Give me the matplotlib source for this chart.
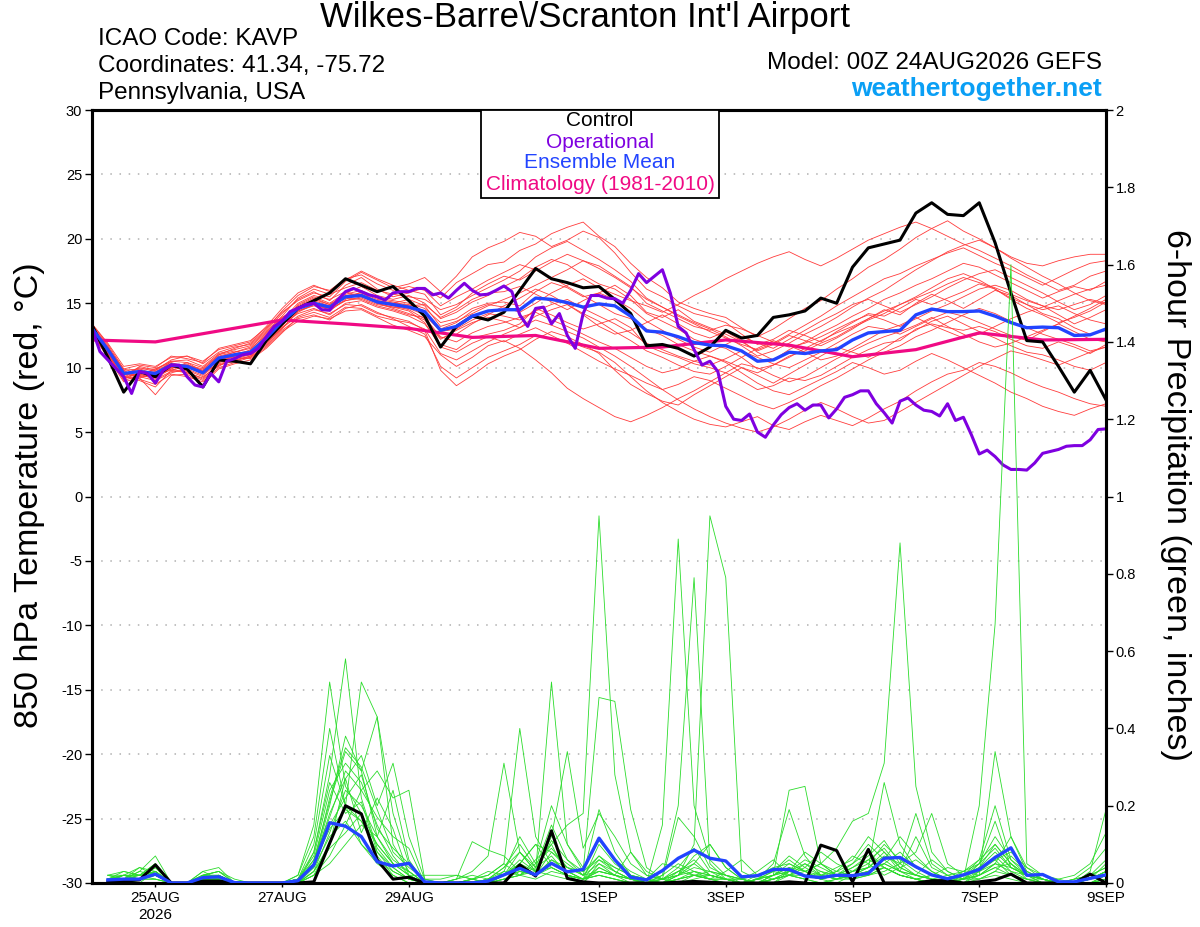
import numpy as np
import matplotlib
matplotlib.use("Agg")
import matplotlib.pyplot as plt
from matplotlib.patches import Rectangle

plt.rcParams['font.family'] = ['Liberation Sans', 'DejaVu Sans']
plt.rcParams['axes.unicode_minus'] = False

# ---- texts ----
station = "Wilkes-Barre\\/Scranton Int'l Airport"
info_lines = ["ICAO Code: KAVP", "Coordinates: 41.34, -75.72", "Pennsylvania, USA"]
model_run = "Model: 00Z 24AUG2026 GEFS"
site = "weathertogether.net"
legend_names = ["Control", "Operational", "Ensemble Mean", "Climatology (1981-2010)"]

# ---- axes ----
date_hours = [24, 72, 120, 192, 240, 288, 336, 384]
date_labels = ["25AUG\n2026", "27AUG", "29AUG", "1SEP", "3SEP", "5SEP", "7SEP", "9SEP"]
temp_ticks = [-30, -25, -20, -15, -10, -5, 0, 5, 10, 15, 20, 25, 30]
precip_ticks = [0, 0.2, 0.4, 0.6, 0.8, 1.0, 1.2, 1.4, 1.6, 1.8, 2.0]
precip_labels = ["0", "0.2", "0.4", "0.6", "0.8", "1", "1.2", "1.4", "1.6", "1.8", "2"]

# ---- 850 hPa temperature (C), 6-hourly from 00Z 24AUG ----
control_temp = [13.3, 10.8, 8.1, 9.7, 9.3, 10.2, 9.9, 8.5, 10.6, 10.5, 10.3, 12.1, 13.4,
                14.6, 15.2, 15.8, 16.9, 16.4, 15.9, 16.3, 15.2, 14.0, 11.6, 13.2, 14.0, 13.7,
                14.3, 16.0, 17.7, 16.9, 16.6, 16.2, 16.3, 15.3, 14.2, 11.7, 11.8, 11.5, 10.9,
                11.6, 12.9, 12.3, 12.5, 13.9, 14.1, 14.4, 15.4, 15.0, 17.8, 19.3, 19.6, 19.9,
                22.0, 22.8, 21.9, 21.8, 22.8, 19.7, 15.8, 12.1, 12.0, 10.1, 8.1, 9.8, 7.5]

mean_temp = [13.05, 11.4, 9.55, 9.7, 9.55, 10.2, 10.1, 9.6, 10.75, 11.0, 11.2, 12.3, 13.6,
             14.6, 15.0, 14.7, 15.5, 15.6, 15.1, 14.9, 14.7, 14.35, 12.9, 13.2, 14.0, 14.4,
             14.5, 14.5, 15.4, 15.3, 15.05, 14.7, 14.95, 14.8, 14.0, 12.85, 12.75, 12.4, 11.95,
             11.75, 11.7, 11.3, 10.5, 10.6, 11.2, 11.1, 11.3, 11.4, 12.15, 12.7, 12.8, 12.9,
             14.1, 14.55, 14.35, 14.35, 14.4, 14.0, 13.5, 13.1, 13.15, 13.1, 12.5, 12.55, 13.0]

# operational run, 3-hourly
oper_temp = [13.05, 11.25, 10.6, 9.95, 9.3, 8.0, 9.7, 9.55, 8.8, 9.8, 10.2, 10.2, 9.3,
             8.65, 8.5, 9.55, 8.9, 10.5, 10.7, 11.0, 11.1, 11.5, 12.4, 13.2, 13.6, 14.35,
             14.6, 14.9, 15.0, 14.5, 14.45, 15.25, 15.9, 16.15, 15.9, 15.65, 15.5, 15.25, 15.8,
             15.9, 15.9, 16.15, 16.15, 15.65, 15.8, 15.4, 16.0, 16.55, 16.0, 15.65, 15.7, 16.0,
             16.34, 15.9, 14.1, 13.2, 14.6, 14.7, 13.4, 14.2, 12.5, 11.5, 14.2, 15.6, 15.6,
             15.4, 15.35, 15.0, 16.0, 17.3, 16.6, 17.1, 17.6, 15.8, 13.2, 12.7, 11.4, 10.2,
             10.5, 9.7, 7.0, 6.0, 5.9, 6.4, 5.0, 4.6, 5.55, 6.35, 6.9, 7.2, 6.7,
             7.1, 7.1, 6.1, 6.8, 7.7, 7.9, 8.2, 8.2, 7.2, 6.5, 5.7, 7.4, 7.65, 7.1,
             6.7, 6.6, 6.25, 7.2, 5.9, 6.15, 4.8, 3.3, 3.6, 3.1, 2.45, 2.1, 2.1,
             2.05, 2.6, 3.35, 3.5, 3.65, 3.9, 3.95, 3.95, 4.4, 5.2, 5.25]

# climatology, daily at 00Z
clim_temp = [12.15, 12.0, 12.85, 13.7, 13.4, 13.05, 12.35, 12.5, 11.5,
             11.6, 12.15, 11.75, 10.85, 11.4, 12.7, 12.15, 12.2]

temp_members = [
    [12.8, 11.0, 9.2, 10.1, 9.8, 10.6, 10.9, 10.3, 11.2, 11.6, 11.8, 12.9, 14.2,
     15.3, 15.9, 15.2, 16.4, 17.0, 16.1, 15.5, 15.8, 16.2, 15.4, 16.6, 17.3, 18.0,
     18.2, 19.1, 19.6, 20.4, 20.9, 21.3, 20.2, 19.4, 18.1, 17.0, 16.2, 15.1, 14.6,
     14.2, 13.9, 13.1, 12.4, 13.0, 13.8, 14.6, 15.2, 16.1, 16.9, 17.8, 18.4, 19.2,
     20.1, 20.8, 21.4, 20.6, 20.0, 19.3, 18.6, 18.1, 17.9, 18.3, 18.6, 18.8, 18.8],
    [13.2, 11.6, 9.8, 9.1, 8.7, 9.5, 9.3, 8.9, 10.0, 10.4, 10.8, 11.7, 12.9,
     13.8, 14.1, 13.7, 14.6, 14.9, 14.3, 13.8, 13.2, 12.6, 10.1, 9.2, 10.0, 10.8,
     11.3, 11.8, 12.5, 12.3, 12.1, 11.6, 11.2, 10.4, 9.3, 8.2, 7.3, 6.6, 6.0,
     5.6, 5.4, 5.8, 6.2, 5.5, 5.2, 5.8, 6.3, 5.9, 5.5, 6.1, 6.8, 7.4,
     8.2, 8.9, 9.5, 9.8, 10.4, 10.1, 9.6, 9.0, 8.5, 8.1, 7.6, 7.2, 7.0],
    [13.0, 11.2, 9.0, 9.4, 9.9, 10.4, 10.0, 9.8, 11.0, 11.3, 11.0, 12.0, 13.2,
     14.9, 15.5, 15.0, 15.8, 16.3, 15.6, 15.3, 15.6, 15.0, 13.8, 14.3, 15.1, 15.6,
     16.3, 16.9, 17.8, 18.4, 18.0, 17.2, 16.5, 16.1, 15.3, 14.2, 13.6, 13.0, 12.2,
     11.8, 11.5, 10.8, 9.9, 10.2, 10.9, 11.3, 11.9, 12.4, 13.1, 13.7, 14.2, 14.9,
     15.5, 16.2, 16.9, 17.3, 16.8, 16.1, 15.4, 14.9, 14.2, 13.8, 13.1, 12.6, 12.9],
    [12.6, 11.0, 9.3, 9.0, 8.5, 9.8, 9.6, 9.2, 10.3, 10.6, 10.9, 12.1, 13.4,
     14.2, 14.6, 14.1, 15.0, 15.2, 14.7, 14.4, 14.0, 13.4, 11.8, 11.4, 12.3, 12.6,
     12.9, 13.4, 14.6, 14.1, 13.5, 13.0, 13.4, 13.8, 13.1, 11.7, 11.2, 10.8, 10.3,
     10.0, 9.6, 9.0, 8.3, 8.6, 9.2, 9.0, 9.4, 10.1, 10.8, 11.4, 11.9, 12.1,
     13.0, 13.4, 13.1, 12.9, 13.2, 12.8, 12.2, 11.7, 11.5, 12.0, 11.6, 11.1, 11.8],
    [13.4, 11.8, 9.9, 10.2, 10.0, 10.9, 10.7, 10.4, 11.5, 11.8, 12.1, 13.1, 14.3,
     15.2, 15.8, 15.5, 16.7, 17.4, 16.8, 16.2, 16.5, 17.0, 15.9, 17.1, 18.6, 19.3,
     19.8, 20.5, 20.2, 19.4, 19.9, 20.6, 20.1, 18.9, 17.4, 16.1, 15.5, 14.8, 14.2,
     13.9, 13.5, 12.6, 11.8, 12.2, 12.9, 12.5, 12.0, 12.8, 13.5, 14.2, 14.0, 14.6,
     15.3, 14.9, 15.4, 15.9, 16.5, 16.1, 15.3, 14.6, 14.1, 13.5, 13.9, 14.4, 15.1],
    [12.9, 11.3, 9.4, 9.8, 9.4, 10.0, 10.3, 9.5, 10.6, 10.9, 11.4, 12.6, 13.9,
     14.7, 15.1, 14.4, 15.3, 15.9, 15.0, 14.6, 14.2, 13.7, 12.2, 12.9, 13.5, 13.9,
     13.6, 13.1, 14.0, 14.5, 14.9, 14.1, 13.2, 12.6, 12.9, 13.5, 14.1, 13.4, 12.7,
     12.3, 12.8, 12.1, 11.2, 10.6, 11.4, 12.0, 12.7, 13.3, 14.0, 14.6, 15.3, 15.8,
     16.4, 16.9, 17.5, 18.1, 17.8, 17.2, 16.6, 16.0, 15.4, 15.9, 16.3, 16.0, 16.7],
    [13.1, 11.5, 9.7, 9.3, 9.0, 9.6, 9.9, 9.4, 10.4, 10.7, 11.0, 12.0, 13.1,
     14.0, 14.5, 14.2, 14.9, 14.8, 14.2, 13.9, 13.6, 12.9, 9.8, 8.6, 9.4, 10.3,
     10.9, 11.4, 12.2, 12.8, 12.4, 11.8, 11.1, 9.8, 8.7, 8.0, 7.4, 7.1, 7.9,
     8.6, 9.3, 10.0, 9.4, 8.8, 9.5, 10.2, 10.9, 11.6, 11.2, 10.8, 11.5, 12.3,
     12.9, 13.6, 14.0, 13.4, 12.8, 12.3, 11.7, 11.2, 11.0, 10.6, 10.1, 9.8, 10.4],
    [12.7, 11.1, 9.5, 10.0, 9.7, 10.3, 10.2, 9.9, 10.9, 11.2, 11.5, 12.5, 13.8,
     14.8, 15.4, 14.9, 15.7, 16.0, 15.4, 15.2, 15.0, 14.6, 13.5, 13.8, 14.6, 15.0,
     15.1, 14.8, 15.9, 16.6, 16.2, 15.5, 15.8, 16.4, 15.6, 14.3, 13.9, 14.5, 13.6,
     13.1, 12.6, 12.0, 11.3, 11.8, 12.5, 12.1, 11.7, 12.3, 13.0, 13.8, 14.5, 14.1,
     15.0, 15.7, 15.2, 14.6, 15.3, 16.0, 15.6, 14.9, 14.5, 14.8, 14.2, 13.7, 13.4],
    [13.3, 11.7, 9.6, 9.2, 9.6, 10.1, 9.7, 9.1, 10.2, 10.5, 10.9, 11.9, 13.0,
     14.4, 14.8, 14.6, 15.4, 15.3, 14.8, 14.5, 14.1, 13.9, 12.4, 12.0, 12.7, 13.2,
     13.5, 13.9, 14.3, 13.7, 13.2, 12.6, 12.0, 11.5, 10.8, 10.1, 9.6, 9.9, 10.5,
     10.9, 10.4, 9.6, 8.8, 8.2, 7.9, 8.5, 9.1, 9.7, 10.4, 10.0, 9.5, 9.8,
     10.5, 11.1, 10.6, 10.0, 9.4, 8.8, 8.1, 7.6, 7.0, 6.6, 6.3, 6.8, 7.2],
    [12.5, 10.9, 9.1, 9.6, 9.2, 9.9, 10.4, 9.7, 10.5, 11.1, 11.3, 12.4, 13.7,
     15.0, 15.6, 15.3, 15.9, 15.5, 15.2, 15.0, 15.3, 14.8, 13.2, 13.6, 14.2, 14.8,
     15.3, 15.8, 16.4, 17.0, 17.6, 18.3, 17.9, 17.1, 16.3, 15.0, 14.4, 13.8, 13.2,
     12.9, 13.3, 13.0, 12.5, 12.0, 11.6, 11.9, 12.4, 13.0, 13.6, 14.1, 13.7, 13.2,
     13.8, 14.4, 14.9, 15.5, 16.1, 16.4, 16.0, 15.3, 14.8, 14.1, 13.4, 13.9, 14.5],
    [13.0, 11.3, 9.3, 9.5, 9.1, 9.7, 9.8, 9.3, 10.1, 10.8, 10.7, 11.6, 12.8,
     13.6, 14.0, 13.8, 14.4, 14.5, 13.9, 13.3, 12.9, 12.4, 11.0, 10.1, 10.8, 11.7,
     12.1, 11.5, 10.6, 9.6, 8.4, 7.6, 6.9, 6.2, 5.8, 6.3, 6.9, 7.6, 8.2,
     8.9, 9.6, 10.3, 10.0, 9.4, 8.9, 9.3, 10.0, 10.7, 11.3, 11.9, 12.4, 12.8,
     13.3, 13.9, 13.2, 12.6, 12.0, 11.6, 11.9, 12.4, 12.9, 13.4, 12.8, 12.2, 12.0],
    [13.2, 11.4, 9.8, 9.9, 9.5, 10.5, 10.6, 10.1, 11.1, 11.4, 11.7, 12.8, 14.0,
     15.4, 16.1, 15.7, 16.2, 16.6, 16.0, 15.7, 15.5, 15.3, 14.5, 14.9, 15.6, 16.2,
     16.8, 17.5, 18.6, 19.3, 19.8, 19.1, 18.4, 17.6, 16.7, 15.4, 14.7, 14.1, 13.5,
     13.0, 12.4, 11.7, 10.9, 11.3, 11.9, 12.6, 13.2, 13.9, 14.7, 15.4, 16.0, 16.8,
     17.6, 18.3, 19.0, 19.5, 19.9, 19.3, 18.5, 17.8, 17.1, 16.5, 15.8, 15.2, 14.9],
    [12.8, 11.1, 9.2, 9.6, 9.4, 9.9, 9.6, 9.0, 10.2, 10.6, 10.8, 11.8, 13.1,
     14.3, 14.9, 14.5, 15.2, 15.4, 14.9, 14.7, 14.4, 13.5, 11.6, 11.2, 11.9, 12.4,
     12.0, 12.6, 13.1, 12.5, 11.9, 11.2, 10.5, 9.9, 9.4, 8.8, 8.3, 8.7, 9.3,
     9.0, 8.4, 7.8, 7.2, 6.8, 7.3, 7.9, 8.6, 9.2, 9.9, 10.6, 11.2, 11.7,
     12.4, 12.9, 13.5, 14.1, 14.6, 14.2, 13.6, 13.1, 12.6, 12.2, 11.8, 11.3, 11.6],
    [13.1, 11.6, 9.9, 9.5, 9.8, 10.3, 10.0, 9.6, 10.8, 11.2, 11.6, 12.7, 13.9,
     14.6, 15.2, 14.8, 15.6, 15.8, 15.3, 15.1, 14.8, 14.9, 13.9, 14.5, 15.3, 15.8,
     15.9, 16.3, 15.7, 15.1, 14.5, 15.2, 15.8, 15.3, 14.6, 13.6, 12.9, 12.2, 11.6,
     11.2, 11.8, 12.4, 11.9, 11.5, 12.2, 12.9, 13.6, 14.2, 14.9, 15.3, 14.8, 14.3,
     14.9, 15.5, 16.2, 16.8, 17.3, 17.6, 17.0, 16.4, 15.8, 15.1, 14.5, 14.9, 15.6],
    [12.9, 11.2, 9.4, 9.7, 9.6, 10.1, 10.0, 9.7, 10.7, 10.9, 11.2, 12.2, 13.5,
     14.5, 15.1, 14.7, 15.5, 15.7, 15.2, 15.0, 14.9, 14.4, 13.0, 13.5, 14.4, 14.9,
     14.7, 14.3, 15.0, 15.8, 16.4, 16.9, 16.2, 15.7, 15.2, 14.8, 14.3, 14.9, 15.6,
     16.2, 16.9, 17.5, 18.1, 18.6, 19.0, 18.4, 17.9, 18.5, 19.2, 19.9, 20.4, 20.9,
     21.3, 20.8, 20.2, 19.6, 19.1, 18.5, 17.9, 17.2, 16.6, 16.0, 16.4, 17.1, 17.5],
    [13.3, 11.5, 9.6, 9.4, 9.2, 10.0, 10.2, 9.8, 10.6, 10.8, 11.1, 12.2, 13.5,
     14.7, 15.3, 14.9, 15.6, 15.7, 15.1, 14.8, 14.5, 13.8, 12.3, 12.6, 13.4, 14.1,
     14.8, 15.4, 16.1, 15.6, 14.9, 14.2, 13.6, 12.8, 12.1, 11.3, 10.8, 10.2, 9.7,
     9.5, 10.1, 10.8, 11.5, 12.1, 11.7, 11.2, 10.6, 10.9, 11.5, 12.2, 12.9, 13.3,
     13.9, 13.3, 12.8, 12.3, 12.6, 13.2, 13.8, 14.3, 14.7, 15.2, 15.7, 16.1, 16.4],
    [12.6, 10.8, 8.9, 9.2, 7.9, 9.4, 9.5, 8.7, 9.9, 10.3, 10.6, 11.5, 12.7,
     13.9, 14.3, 13.9, 14.7, 14.6, 14.0, 13.7, 13.5, 13.0, 11.1, 10.6, 11.3, 12.0,
     12.6, 13.1, 13.7, 13.3, 12.8, 12.3, 11.6, 10.9, 10.1, 9.2, 8.3, 7.5, 6.8,
     6.2, 5.7, 5.3, 5.0, 5.4, 6.0, 6.7, 7.3, 6.8, 6.2, 5.7, 5.9, 6.6,
     7.3, 8.0, 8.7, 9.4, 10.1, 10.7, 11.3, 11.0, 10.6, 10.2, 10.7, 11.2, 11.6],
    [13.0, 11.4, 9.5, 9.9, 9.9, 10.5, 10.4, 10.0, 11.0, 11.5, 11.9, 13.0, 14.4,
     15.6, 16.3, 16.0, 16.9, 17.2, 16.5, 16.0, 16.3, 16.0, 14.8, 15.5, 16.1, 16.8,
     17.4, 18.0, 17.6, 17.0, 16.3, 15.6, 14.9, 14.2, 13.8, 13.0, 12.5, 11.8, 11.3,
     10.9, 10.5, 10.0, 9.6, 10.2, 10.8, 11.5, 12.1, 12.7, 13.2, 13.8, 14.4, 14.9,
     15.4, 15.9, 16.5, 17.0, 16.6, 16.2, 15.7, 15.2, 14.8, 14.5, 14.9, 15.3, 15.0],
    [12.7, 11.0, 9.2, 9.3, 9.5, 9.8, 10.1, 9.5, 10.4, 10.9, 11.0, 12.1, 13.3,
     14.4, 14.9, 14.6, 15.2, 15.5, 15.0, 14.7, 14.6, 14.1, 12.8, 13.0, 13.7, 14.2,
     14.0, 13.7, 14.4, 14.9, 15.3, 14.6, 14.0, 13.4, 12.7, 11.9, 11.4, 10.9, 10.5,
     10.2, 10.7, 11.3, 10.8, 10.3, 10.0, 10.6, 11.2, 11.9, 12.6, 13.2, 13.0, 12.6,
     13.2, 13.8, 14.3, 14.0, 13.5, 13.0, 12.5, 12.1, 12.8, 13.4, 14.0, 14.6, 15.3],
    [13.4, 11.9, 10.1, 10.3, 10.1, 10.8, 10.9, 10.5, 11.4, 11.7, 12.0, 13.2, 14.6,
     15.8, 16.4, 15.9, 16.8, 17.5, 16.9, 16.4, 16.0, 15.7, 14.1, 14.7, 15.8, 16.5,
     17.1, 16.8, 17.5, 18.2, 18.8, 18.3, 17.7, 17.0, 16.2, 15.3, 14.7, 14.0, 13.4,
     12.8, 12.3, 11.8, 11.4, 11.9, 12.6, 13.3, 14.0, 14.8, 15.5, 16.2, 16.9, 17.3,
     17.9, 18.4, 18.9, 19.3, 18.7, 18.1, 17.6, 17.0, 16.4, 17.0, 17.6, 18.1, 18.3],
]

# ---- 6-hour precipitation (inches), valid 06Z 24AUG onwards ----
control_precip = [0.003, 0.005, 0.008, 0.047, 0, 0, 0.005, 0.005, 0, 0, 0, 0, 0, 0.003, 0.103, 0.2,
                  0.179, 0.06, 0.01, 0.015, 0, 0, 0, 0, 0, 0, 0.047, 0.018, 0.135, 0.012, 0.003, 0,
                  0, 0, 0, 0, 0.002, 0.004, 0.002, 0, 0, 0, 0, 0.003, 0, 0.098, 0.084, 0.003,
                  0.087, 0, 0, 0, 0.006, 0.006, 0, 0.003, 0.008, 0.023, 0, 0, 0, 0, 0.023, 0]

mean_precip = [0.008, 0.01, 0.01, 0.023, 0, 0, 0.014, 0.016, 0.001, 0, 0, 0, 0.006, 0.047, 0.156, 0.147,
               0.12, 0.055, 0.044, 0.051, 0.003, 0, 0, 0, 0.005, 0.021, 0.038, 0.021, 0.051, 0.029, 0.035, 0.116,
               0.06, 0.015, 0.008, 0.032, 0.064, 0.085, 0.064, 0.057, 0.016, 0.019, 0.035, 0.035, 0.018, 0.014, 0.02, 0.019,
               0.025, 0.064, 0.066, 0.042, 0.021, 0.011, 0.021, 0.035, 0.066, 0.091, 0.02, 0.022, 0.003, 0.003, 0.012, 0.021]

precip_members = [
    [0.01, 0.02, 0.01, 0.03, 0, 0, 0.01, 0.02, 0, 0, 0, 0, 0.01, 0.06, 0.21, 0.34,
     0.29, 0.12, 0.05, 0.03, 0, 0, 0.01, 0.02, 0.01, 0.04, 0.08, 0.03, 0.11, 0.06, 0.02, 0.19,
     0.08, 0.02, 0, 0.01, 0.04, 0.09, 0.03, 0.02, 0.01, 0, 0.02, 0.05, 0.03, 0.01, 0.02, 0.04,
     0.07, 0.11, 0.05, 0.02, 0.01, 0, 0.01, 0.2, 0.67, 1.6, 0.05, 0.02, 0, 0, 0.01, 0.03],
    [0, 0.01, 0.04, 0.02, 0, 0, 0.03, 0.01, 0, 0, 0, 0, 0, 0.08, 0.28, 0.58,
     0.22, 0.09, 0.04, 0.01, 0, 0, 0, 0, 0, 0.02, 0.05, 0.1, 0.04, 0.02, 0.01, 0.06,
     0.03, 0.01, 0, 0, 0.02, 0.05, 0.1, 0.04, 0.01, 0, 0, 0.03, 0.08, 0.05, 0.02, 0.01,
     0.03, 0.06, 0.12, 0.07, 0.03, 0.01, 0, 0.02, 0.05, 0.12, 0.04, 0.01, 0, 0, 0, 0.02],
    [0.02, 0.03, 0.02, 0.05, 0, 0, 0.02, 0.03, 0, 0, 0, 0, 0.02, 0.15, 0.52, 0.25,
     0.18, 0.07, 0.02, 0, 0, 0, 0, 0.01, 0, 0.03, 0.12, 0.05, 0.2, 0.1, 0.03, 0.48,
     0.47, 0.19, 0.04, 0.01, 0, 0.02, 0.03, 0.01, 0, 0.01, 0.03, 0.07, 0.04, 0.02, 0.01, 0.03,
     0.05, 0.02, 0.04, 0.06, 0.03, 0.01, 0.02, 0.05, 0.09, 0.04, 0.02, 0, 0.01, 0.02, 0.05, 0.13],
    [0.01, 0, 0.01, 0.02, 0, 0, 0.01, 0, 0, 0, 0, 0, 0, 0.03, 0.1, 0.2,
     0.52, 0.43, 0.18, 0.05, 0, 0, 0, 0, 0, 0.01, 0.02, 0.04, 0.07, 0.02, 0, 0.05,
     0.02, 0, 0, 0.15, 0.89, 0.2, 0.06, 0.02, 0, 0, 0.01, 0.02, 0.01, 0, 0.01, 0.03,
     0.04, 0.08, 0.03, 0.01, 0, 0, 0.02, 0.04, 0.1, 0.05, 0.01, 0, 0, 0, 0.01, 0.02],
    [0, 0.01, 0, 0.03, 0, 0, 0.02, 0.01, 0, 0, 0, 0, 0.01, 0.05, 0.18, 0.27,
     0.33, 0.2, 0.31, 0.12, 0.01, 0.01, 0.02, 0.01, 0.02, 0.05, 0.02, 0.03, 0.52, 0.1, 0.04, 0.11,
     0.06, 0.03, 0.01, 0, 0.02, 0.1, 0.95, 0.79, 0.03, 0.01, 0, 0.02, 0.05, 0.03, 0.01, 0.02,
     0.04, 0.26, 0.1, 0.04, 0.02, 0.01, 0, 0.03, 0.07, 0.03, 0.01, 0, 0, 0, 0.02, 0.04],
    [0.01, 0.01, 0.03, 0.02, 0, 0, 0.01, 0.01, 0, 0, 0, 0, 0, 0.04, 0.12, 0.16,
     0.1, 0.06, 0.03, 0.01, 0, 0, 0, 0.01, 0.02, 0.05, 0.4, 0.12, 0.05, 0.03, 0.01, 0.02,
     0.01, 0, 0, 0.02, 0.2, 0.79, 0.05, 0.01, 0, 0.01, 0.02, 0.24, 0.25, 0.05, 0.02, 0.01,
     0.02, 0.04, 0.02, 0.01, 0, 0.01, 0.03, 0.02, 0.34, 0.12, 0.03, 0.01, 0, 0, 0, 0.01],
    [0.02, 0.02, 0.01, 0.04, 0, 0, 0.02, 0.02, 0, 0, 0, 0, 0.01, 0.07, 0.24, 0.31,
     0.26, 0.15, 0.07, 0.02, 0, 0, 0.01, 0.03, 0.07, 0.31, 0.08, 0.04, 0.1, 0.15, 0.18, 0.95,
     0.28, 0.08, 0.02, 0.01, 0.03, 0.05, 0.02, 0.01, 0, 0, 0.02, 0.04, 0.03, 0.01, 0.03, 0.05,
     0.08, 0.04, 0.02, 0.01, 0, 0, 0.01, 0.04, 0.06, 0.02, 0, 0, 0, 0.01, 0.02, 0.02],
    [0, 0.01, 0.02, 0.01, 0, 0, 0.01, 0.02, 0, 0, 0, 0, 0, 0.02, 0.07, 0.15,
     0.24, 0.29, 0.22, 0.24, 0.01, 0, 0, 0, 0.01, 0.02, 0.05, 0.02, 0.08, 0.04, 0.02, 0.07,
     0.04, 0.02, 0.01, 0, 0.03, 0.06, 0.02, 0.01, 0, 0.01, 0.03, 0.06, 0.03, 0.05, 0.09, 0.16,
     0.18, 0.31, 0.88, 0.25, 0.08, 0.03, 0.01, 0.02, 0.04, 0.02, 0.01, 0, 0, 0, 0.01, 0.03],
    [0.01, 0.03, 0.02, 0.03, 0, 0, 0.01, 0.01, 0, 0, 0, 0, 0, 0.05, 0.2, 0.38,
     0.29, 0.43, 0.1, 0.03, 0, 0, 0, 0.01, 0, 0.02, 0.06, 0.03, 0.12, 0.34, 0.09, 0.18,
     0.12, 0.05, 0.02, 0.01, 0.17, 0.12, 0.04, 0.02, 0.01, 0, 0.01, 0.03, 0.06, 0.04, 0.02, 0.02,
     0.03, 0.05, 0.03, 0.02, 0.01, 0, 0.02, 0.06, 0.1, 0.05, 0.02, 0.01, 0, 0, 0.01, 0.02],
    [0.02, 0.01, 0.03, 0.07, 0, 0, 0.03, 0.04, 0, 0, 0, 0, 0.01, 0.1, 0.33, 0.2,
     0.16, 0.08, 0.04, 0.01, 0, 0, 0.01, 0.107, 0.085, 0.07, 0.03, 0.02, 0.05, 0.03, 0.01, 0.03,
     0.02, 0.01, 0, 0, 0.01, 0.02, 0.01, 0, 0, 0.01, 0.05, 0.19, 0.07, 0.02, 0.01, 0.02,
     0.04, 0.07, 0.05, 0.18, 0.05, 0.02, 0.01, 0.03, 0.05, 0.04, 0.02, 0.01, 0, 0, 0.03, 0.19],
    [0, 0, 0.01, 0.02, 0, 0, 0.02, 0.03, 0.01, 0, 0, 0, 0, 0.03, 0.09, 0.13,
     0.18, 0.1, 0.05, 0.02, 0.02, 0.02, 0.02, 0.01, 0, 0.01, 0.02, 0.06, 0.1, 0.02, 0.01, 0.02,
     0.01, 0, 0.01, 0.05, 0.04, 0.02, 0.01, 0.03, 0.06, 0.02, 0.01, 0.02, 0.04, 0.08, 0.05, 0.03,
     0.06, 0.09, 0.04, 0.02, 0.06, 0.03, 0.01, 0.01, 0.03, 0.07, 0.03, 0.01, 0, 0, 0, 0.01],
    [0.01, 0.02, 0.02, 0.05, 0, 0, 0.01, 0.02, 0, 0, 0, 0, 0.02, 0.12, 0.4, 0.2,
     0.1, 0.05, 0.02, 0, 0, 0, 0, 0, 0, 0.01, 0.03, 0.02, 0.04, 0.02, 0.01, 0.1,
     0.05, 0.02, 0.01, 0, 0.01, 0.03, 0.02, 0.01, 0, 0, 0.01, 0.02, 0.02, 0.01, 0, 0.02,
     0.03, 0.04, 0.02, 0.01, 0.02, 0.01, 0.01, 0.05, 0.16, 0.04, 0.02, 0.01, 0, 0, 0.01, 0.05],
    [0.01, 0.01, 0.01, 0.02, 0, 0, 0.02, 0.01, 0, 0, 0, 0, 0, 0.02, 0.1, 0.27,
     0.13, 0.22, 0.14, 0.02, 0, 0, 0, 0, 0.01, 0.04, 0.1, 0.04, 0.15, 0.06, 0.03, 0.07,
     0.03, 0.01, 0, 0.01, 0.02, 0.07, 0.1, 0.04, 0.01, 0, 0.02, 0.04, 0.02, 0.01, 0.02, 0.05,
     0.1, 0.06, 0.03, 0.12, 0.04, 0.02, 0, 0.01, 0.03, 0.02, 0.01, 0.01, 0, 0.01, 0.02, 0.04],
    [0, 0.02, 0.01, 0.01, 0, 0, 0.01, 0.01, 0, 0, 0, 0, 0.01, 0.04, 0.15, 0.22,
     0.28, 0.14, 0.09, 0.05, 0, 0, 0, 0.01, 0.03, 0.02, 0.08, 0.03, 0.02, 0.01, 0, 0.04,
     0.02, 0.08, 0.03, 0.01, 0, 0.01, 0.02, 0.01, 0.01, 0.03, 0.06, 0.02, 0.01, 0, 0.01, 0.02,
     0.02, 0.03, 0.05, 0.08, 0.18, 0.05, 0.02, 0.01, 0.02, 0.01, 0, 0, 0, 0, 0, 0.01],
    [0.01, 0.02, 0.04, 0.03, 0, 0, 0.02, 0.02, 0, 0, 0, 0, 0, 0.06, 0.17, 0.29,
     0.24, 0.17, 0.12, 0.09, 0, 0, 0, 0, 0.01, 0.02, 0.05, 0.1, 0.08, 0.05, 0.02, 0.03,
     0.02, 0.01, 0, 0, 0.01, 0.02, 0.01, 0, 0, 0.01, 0.02, 0.03, 0.02, 0.02, 0.03, 0.07,
     0.05, 0.1, 0.06, 0.03, 0.01, 0.02, 0.03, 0.06, 0.2, 0.06, 0.03, 0.01, 0, 0, 0.02, 0.06],
    [0.02, 0.01, 0.02, 0.03, 0, 0, 0.01, 0.02, 0, 0, 0, 0, 0.01, 0.08, 0.26, 0.18,
     0.21, 0.08, 0.03, 0.01, 0, 0, 0, 0, 0, 0.01, 0.02, 0.01, 0.03, 0.02, 0.01, 0.02,
     0.01, 0, 0, 0.02, 0.05, 0.03, 0.01, 0.01, 0, 0, 0.01, 0.03, 0.05, 0.02, 0.01, 0.01,
     0.02, 0.04, 0.02, 0.01, 0, 0, 0.01, 0.02, 0.05, 0.03, 0.02, 0.01, 0, 0.01, 0.04, 0.09],
    [0, 0, 0.01, 0.01, 0, 0, 0.01, 0, 0, 0, 0, 0, 0, 0.02, 0.05, 0.1,
     0.15, 0.12, 0.06, 0.03, 0, 0, 0, 0, 0, 0.02, 0.04, 0.02, 0.06, 0.04, 0.03, 0.06,
     0.04, 0.02, 0.01, 0.01, 0.03, 0.02, 0.01, 0.01, 0, 0.02, 0.04, 0.05, 0.03, 0.02, 0.04, 0.06,
     0.12, 0.08, 0.04, 0.02, 0.01, 0.01, 0.02, 0.03, 0.06, 0.08, 0.04, 0.02, 0.01, 0, 0, 0.01],
    [0.01, 0.02, 0.02, 0.04, 0, 0, 0.02, 0.03, 0, 0, 0, 0, 0.01, 0.05, 0.22, 0.35,
     0.3, 0.19, 0.08, 0.04, 0.01, 0, 0, 0, 0.01, 0.03, 0.02, 0.05, 0.09, 0.04, 0.02, 0.05,
     0.03, 0.01, 0, 0.01, 0.02, 0.04, 0.03, 0.02, 0.01, 0, 0.01, 0.02, 0.01, 0.03, 0.02, 0.04,
     0.06, 0.04, 0.02, 0.01, 0.02, 0.04, 0.03, 0.05, 0.12, 0.06, 0.02, 0, 0, 0, 0.01, 0.03],
    [0.01, 0.01, 0.01, 0.02, 0, 0, 0.01, 0.01, 0, 0, 0, 0, 0, 0.03, 0.13, 0.24,
     0.2, 0.12, 0.24, 0.06, 0, 0, 0, 0, 0, 0.02, 0.03, 0.02, 0.06, 0.03, 0.01, 0.04,
     0.02, 0.01, 0, 0, 0.01, 0.02, 0.02, 0.01, 0, 0.01, 0.02, 0.03, 0.02, 0.01, 0.02, 0.03,
     0.04, 0.05, 0.03, 0.02, 0.01, 0, 0.01, 0.02, 0.04, 0.05, 0.02, 0.01, 0, 0, 0, 0.02],
    [0.01, 0.02, 0.01, 0.03, 0, 0, 0.02, 0.01, 0, 0, 0, 0, 0.01, 0.05, 0.14, 0.19,
     0.16, 0.1, 0.05, 0.02, 0, 0, 0, 0, 0.01, 0.02, 0.05, 0.03, 0.04, 0.02, 0.01, 0.03,
     0.02, 0.01, 0.01, 0, 0.02, 0.03, 0.02, 0.01, 0.01, 0.02, 0.03, 0.02, 0.03, 0.05, 0.03, 0.02,
     0.03, 0.05, 0.08, 0.04, 0.02, 0.01, 0.02, 0.04, 0.08, 0.04, 0.02, 0.01, 0, 0, 0.01, 0.03],
]

# forecast hours
hours_6h = np.arange(0, 385, 6)
hours_3h = np.arange(0, 385, 3)
hours_day = np.arange(0, 385, 24)
hours_precip = np.arange(6, 385, 6)

RED = '#ff3b3b'
GREEN = '#2bdc2b'
PURPLE = '#7f00e0'
BLUE = '#2244ff'
PINK = '#f00a84'

fig = plt.figure(figsize=(12, 9.27), dpi=100)
ax = fig.add_axes([92 / 1200, 44 / 927, 1014 / 1200, 773 / 927])
ax2 = ax.twinx()

for m in temp_members:
    ax.plot(hours_6h, m, color=RED, lw=0.6, zorder=2)
ax.plot(hours_day, clim_temp, color=PINK, lw=2.3, zorder=3)
ax.plot(hours_6h, control_temp, color='black', lw=2.2, zorder=4)
ax.plot(hours_6h, mean_temp, color=BLUE, lw=2.4, zorder=5)
ax.plot(hours_3h, oper_temp, color=PURPLE, lw=2.2, zorder=6)

for m in precip_members:
    ax2.plot(hours_precip, m, color=GREEN, lw=0.6, zorder=2)
ax2.plot(hours_precip, control_precip, color='black', lw=2.2, zorder=4)
ax2.plot(hours_precip, mean_precip, color=BLUE, lw=2.4, zorder=5)

ax.set_xlim(0, 384)
ax.set_ylim(-30, 30)
ax2.set_ylim(0, 2)
ax.set_yticks(temp_ticks)
ax.set_yticklabels([str(t) for t in temp_ticks])
ax2.set_yticks(precip_ticks)
ax2.set_yticklabels(precip_labels)
ax.set_xticks(date_hours)
ax.set_xticklabels(date_labels)

ax.grid(axis='y', color='#b0b0b0', linestyle=(0, (1, 5)), lw=1.1)
ax.set_axisbelow(True)

ax.tick_params(axis='y', direction='out', length=5, width=1, labelsize=10.5, pad=2)
ax2.tick_params(axis='y', direction='out', length=5, width=1, labelsize=10.5, pad=2)
ax.tick_params(axis='x', direction='out', length=3, width=1, labelsize=11, pad=3)
for side in ['left', 'right', 'top', 'bottom']:
    ax.spines[side].set_linewidth(2.2)
    ax2.spines[side].set_linewidth(2.2)

# header
fig.text(585 / 1200, 1 - 18 / 927, station, ha='center', va='center', fontsize=25)
for k, line in enumerate(info_lines):
    fig.text(98 / 1200, 1 - (39 + 27 * k) / 927, line, ha='left', va='center', fontsize=17.5)
fig.text(1102 / 1200, 1 - 63 / 927, model_run, ha='right', va='center', fontsize=17.5)
fig.text(1102 / 1200, 1 - 89 / 927, site, ha='right', va='center', fontsize=19,
         fontweight='bold', color='#0a9ff5')

# axis titles
fig.text(30 / 1200, 1 - 495 / 927, "850 hPa Temperature (red, °C)", rotation=90,
         ha='center', va='center', fontsize=24.5)
fig.text(1175 / 1200, 1 - 495 / 927, "6-hour Precipitation (green, inches)", rotation=270,
         ha='center', va='center', fontsize=24.5)

# legend box
fig.patches.append(Rectangle((481 / 1200, 1 - 198 / 927), 238 / 1200, 88 / 927,
                             transform=fig.transFigure, facecolor='white',
                             edgecolor='black', lw=1.3, zorder=5))
leg_colors = ['black', PURPLE, BLUE, PINK]
leg_y = [121, 142, 163, 185]
for name, c, yy in zip(legend_names, leg_colors, leg_y):
    fig.text(600 / 1200, 1 - yy / 927, name, ha='center', va='center',
             fontsize=15, color=c, zorder=6)

fig.savefig('out.png', dpi=100)
